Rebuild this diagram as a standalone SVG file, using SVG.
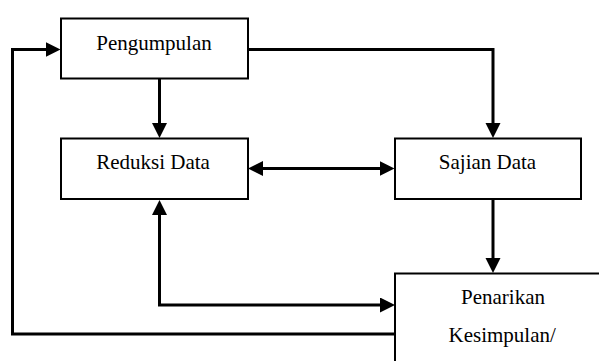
<svg xmlns="http://www.w3.org/2000/svg" width="599" height="361" viewBox="0 0 599 361">
<style>
.box{fill:#fff;stroke:#000;stroke-width:2}
.lbl{font-family:'Liberation Serif','Times New Roman',Times,'DejaVu Serif',serif;font-size:21px;fill:#000}
.c{text-anchor:middle}
.con{fill:none;stroke:#000;stroke-width:3}
</style>
<defs>
<marker id="ah" markerUnits="userSpaceOnUse" markerWidth="16" markerHeight="16" refX="10" refY="7.5" orient="auto-start-reverse">
<path d="M0,0 L15,7.5 L0,15 z" fill="#000"/>
</marker>
</defs>
<rect width="599" height="361" fill="#fff"/>
<g id="connectors">
<path class="con" d="M159.5,79 V133" marker-end="url(#ah)"/>
<path class="con" d="M248,49.5 H493 V133" marker-end="url(#ah)"/>
<path class="con" d="M253,168.5 H389.5" marker-start="url(#ah)" marker-end="url(#ah)"/>
<path class="con" d="M493,199 V268" marker-end="url(#ah)"/>
<path class="con" d="M390,305 H159.5 V205" marker-start="url(#ah)" marker-end="url(#ah)"/>
<path class="con" d="M395,334 H12.5 V49.5 H55.5" marker-end="url(#ah)"/>
</g>
<g id="pengumpulan">
<rect class="box" x="61" y="18.5" width="187" height="60"/>
<text class="lbl c" x="154" y="49.5" font-family="Liberation Serif, serif">Pengumpulan</text>
</g>
<g id="reduksi">
<rect class="box" x="61" y="138.5" width="187" height="60.5"/>
<text class="lbl c" x="153" y="169" font-family="Liberation Serif, serif">Reduksi Data</text>
</g>
<g id="sajian">
<rect class="box" x="395" y="138.5" width="186" height="60.5"/>
<text class="lbl c" x="487.5" y="168.5" font-family="Liberation Serif, serif">Sajian Data</text>
</g>
<g id="penarikan">
<rect class="box" x="395" y="273.5" width="230" height="120"/>
<text class="lbl" x="461" y="304.3" font-family="Liberation Serif, serif">Penarikan</text>
<text class="lbl" x="448.5" y="341.7" font-family="Liberation Serif, serif">Kesimpulan/</text>
</g>
</svg>
